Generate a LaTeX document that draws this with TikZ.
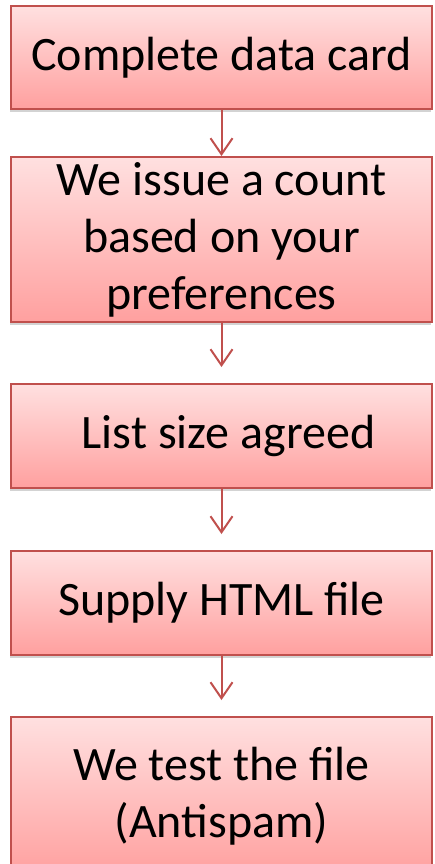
\documentclass[tikz,border=0pt]{standalone}
\usepackage{fontspec}
\setmainfont{Carlito}
\usetikzlibrary{arrows.meta,positioning,shadows}

\definecolor{boxred}{HTML}{C0504D}
\definecolor{boxtop}{HTML}{FFE0E0}
\definecolor{boxbot}{HTML}{FFA09F}

\tikzset{
  stepbox/.style={rectangle, draw=boxred, line width=2pt,
    top color=boxtop, bottom color=boxbot,
    minimum width=421pt, inner sep=0pt, align=center,
    font=\fontsize{48}{57}\selectfont,
    drop shadow={shadow xshift=-1pt, shadow yshift=-3pt, opacity=0.35}},
  flow/.style={draw=boxred, line width=2pt,
    -{Straight Barb[length=16pt,width=22pt,line width=2pt]}}
}

\begin{document}
\begin{tikzpicture}[x=1pt, y=1pt]
  \useasboundingbox (0,0) rectangle (434,-864);
  \begin{scope}[every node/.style={stepbox}]
    \node (b1) [minimum height=103pt] at (221.5,-57.5) {Complete data card};
    \node (b2) [minimum height=165pt, below=46pt of b1] {We issue a count\\based on your\\preferences};
    \node (b3) [minimum height=104pt, below=60pt of b2] {\hspace*{14pt}List size agreed};
    \node (b4) [minimum height=104pt, below=61pt of b3] {Supply HTML file};
    \node (b5) [minimum height=158pt, below=60pt of b4] {We test the file\\(Antispam)};
  \end{scope}
  \begin{scope}[every path/.style={flow}]
    \draw (b1) -- (b2);
    \draw[shorten >=16pt] (b2) -- (b3);
    \draw[shorten >=16pt] (b3) -- (b4);
    \draw[shorten >=16pt] (b4) -- (b5);
  \end{scope}
\end{tikzpicture}
\end{document}
